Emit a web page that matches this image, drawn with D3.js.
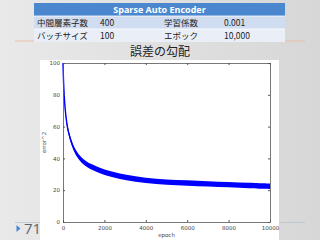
<!DOCTYPE html>
<html>
<head>
<meta charset="utf-8">
<script src="https://cdn.jsdelivr.net/npm/d3@7"></script>
<style>
  html, body { margin: 0; padding: 0; }
  body { width: 320px; height: 240px; overflow: hidden; font-family: "Noto Sans CJK JP", "Noto Sans", sans-serif; }
  .tick text { font-family: "DejaVu Sans", sans-serif; font-size: 5.5px; fill: #444; }
  .axis path, .axis line { stroke: #555; }
</style>
</head>
<body>
<svg id="slide" width="320" height="240"></svg>
<script>
(function () {

// table contents
const tableTitle = 'Sparse Auto Encoder';
const tableRows = [
  ['中間層素子数', '400', '学習係数', '0.001'],
  ['バッチサイズ', '100', 'エポック', '10,000']
];
const chartTitle = '誤差の勾配';
const pageNumber = '71';

// error curve (centre of the noisy band)
const epochs = [0, 20, 50, 100, 180, 250, 420, 670, 1000, 1300, 2000, 3000, 4000, 5000, 6000, 7000, 8000, 9000, 10000];
const errors = [100, 90, 81, 71, 62, 57, 49, 42, 37.5, 35, 31, 28, 26, 25, 24.5, 24, 23.5, 23, 22.5];
// half width of the band
const spread = [0, 0.6, 0.9, 1.1, 1.3, 1.4, 1.5, 1.6, 1.7, 1.7, 1.7, 1.7, 1.7, 1.7, 1.7, 1.7, 1.7, 1.7, 1.7];

const xTicks = [0, 2000, 4000, 6000, 8000, 10000];
const yTicks = [0, 20, 40, 60, 80, 100];

const svg = d3.select('#slide');

// background
const defs = svg.append('defs');
const grad = defs.append('linearGradient').attr('id', 'bg').attr('x1', 0).attr('x2', 1).attr('y1', 0).attr('y2', 0);
grad.append('stop').attr('offset', '0%').attr('stop-color', '#e9e9e9');
grad.append('stop').attr('offset', '100%').attr('stop-color', '#d7d7d7');
svg.append('rect').attr('width', 320).attr('height', 240).attr('fill', 'url(#bg)');

// slide decoration lines
svg.append('line').attr('x1', 15).attr('x2', 305).attr('y1', 41).attr('y2', 41)
  .attr('stroke', '#e8b89a').attr('stroke-width', 0.8);
svg.append('line').attr('x1', 15).attr('x2', 305).attr('y1', 222.5).attr('y2', 222.5)
  .attr('stroke', '#b8c4d2').attr('stroke-width', 0.8);

// table
const table = {left: 34, top: 3, width: 251, headH: 13, rowH: 13};
const colX = [37, 100, 164, 224];
svg.append('rect')
  .attr('x', table.left).attr('y', table.top)
  .attr('width', table.width).attr('height', table.headH)
  .attr('fill', '#4b87cf');
svg.append('text')
  .attr('x', table.left + table.width / 2).attr('y', table.top + 9.5)
  .attr('text-anchor', 'middle')
  .attr('font-family', '"Open Sans", "Noto Sans", sans-serif')
  .attr('font-weight', 'bold').attr('font-size', 9).attr('fill', '#fff')
  .text(tableTitle);

const row = svg.selectAll('.row')
  .data(tableRows)
  .enter().append('g')
    .attr('class', 'row')
    .attr('transform', function(d, i) { return 'translate(0,' + (table.top + table.headH + i * table.rowH) + ')'; });

row.append('rect')
  .attr('x', table.left).attr('width', table.width).attr('height', table.rowH)
  .attr('fill', function(d, i) { return i === 0 ? '#d0dcf0' : '#e9eef7'; });
row.append('line')
  .attr('x1', table.left).attr('x2', table.left + table.width)
  .attr('y1', 0).attr('y2', 0)
  .attr('stroke', '#fff').attr('stroke-width', 0.8);

row.selectAll('text')
  .data(function(d) { return d; })
  .enter().append('text')
    .attr('x', function(d, i) { return colX[i]; })
    .attr('y', 9.5)
    .attr('font-family', '"Noto Sans CJK JP", "Open Sans", sans-serif')
    .attr('font-size', 8.5).attr('fill', '#222')
    .text(function(d) { return d; });

// chart panel
const panel = {left: 40, top: 60, right: 279, bottom: 240};
svg.append('rect')
  .attr('x', panel.left).attr('y', panel.top)
  .attr('width', panel.right - panel.left).attr('height', panel.bottom - panel.top)
  .attr('fill', '#fff');

svg.append('text')
  .attr('x', 160).attr('y', 56)
  .attr('text-anchor', 'middle')
  .attr('font-size', 12).attr('fill', '#222')
  .text(chartTitle);

const margin = {left: 63, top: 63, right: 270, bottom: 222};

const x = d3.scaleLinear().domain([0, 10000]).range([margin.left, margin.right]);
const y = d3.scaleLinear().domain([0, 100]).range([margin.bottom, margin.top]);

const plot = svg.append('g');

const series = epochs.map(function(e, i) { return {e: e, v: errors[i], s: spread[i]}; });

plot.append('path')
  .datum(series)
  .attr('fill', '#0000ff')
  .attr('d', d3.area()
    .x(function(d) { return x(d.e); })
    .y0(function(d) { return y(d.v - d.s); })
    .y1(function(d) { return y(d.v + d.s); })
    .curve(d3.curveBasis));

plot.append('path')
  .datum(series)
  .attr('fill', 'none')
  .attr('stroke', '#0000ff')
  .attr('stroke-width', 1.4)
  .attr('d', d3.line()
    .x(function(d) { return x(d.e); })
    .y(function(d) { return y(d.v); })
    .curve(d3.curveBasis));

// axes: box with inward ticks
const fmt = d3.format('d');
plot.append('g').attr('class', 'axis')
  .attr('transform', 'translate(0,' + margin.bottom + ')')
  .call(d3.axisBottom(x).tickValues(xTicks).tickFormat(fmt).tickSize(-2).tickPadding(4).tickSizeOuter(0));
plot.append('g').attr('class', 'axis')
  .attr('transform', 'translate(0,' + margin.top + ')')
  .call(d3.axisTop(x).tickValues(xTicks).tickSize(-2).tickFormat('').tickSizeOuter(0));
plot.append('g').attr('class', 'axis')
  .attr('transform', 'translate(' + margin.left + ',0)')
  .call(d3.axisLeft(y).tickValues(yTicks).tickFormat(fmt).tickSize(-2).tickPadding(3).tickSizeOuter(0));
plot.append('g').attr('class', 'axis')
  .attr('transform', 'translate(' + margin.right + ',0)')
  .call(d3.axisRight(y).tickValues(yTicks).tickSize(-2).tickFormat('').tickSizeOuter(0));

plot.selectAll('.axis path').attr('stroke-width', 0.8);

plot.append('text')
  .attr('x', (margin.left + margin.right) / 2).attr('y', 237)
  .attr('text-anchor', 'middle')
  .attr('font-family', '"DejaVu Sans", sans-serif')
  .attr('font-size', 5.5).attr('fill', '#444')
  .text('epoch');

plot.append('text')
  .attr('transform', 'translate(46,' + (margin.top + margin.bottom) / 2 + ') rotate(-90)')
  .attr('text-anchor', 'middle')
  .attr('font-family', '"DejaVu Sans", sans-serif')
  .attr('font-size', 5.5).attr('fill', '#444')
  .text('error^2');

// page number
svg.append('path')
  .attr('d', 'M16.5,225 L20.5,228.5 L16.5,232 Z')
  .attr('fill', '#4a86d0');
svg.append('text')
  .attr('x', 24).attr('y', 234)
  .attr('font-family', '"Open Sans", sans-serif')
  .attr('font-size', 15).attr('fill', '#5b6673')
  .text(pageNumber);

})();
</script>
</body>
</html>
